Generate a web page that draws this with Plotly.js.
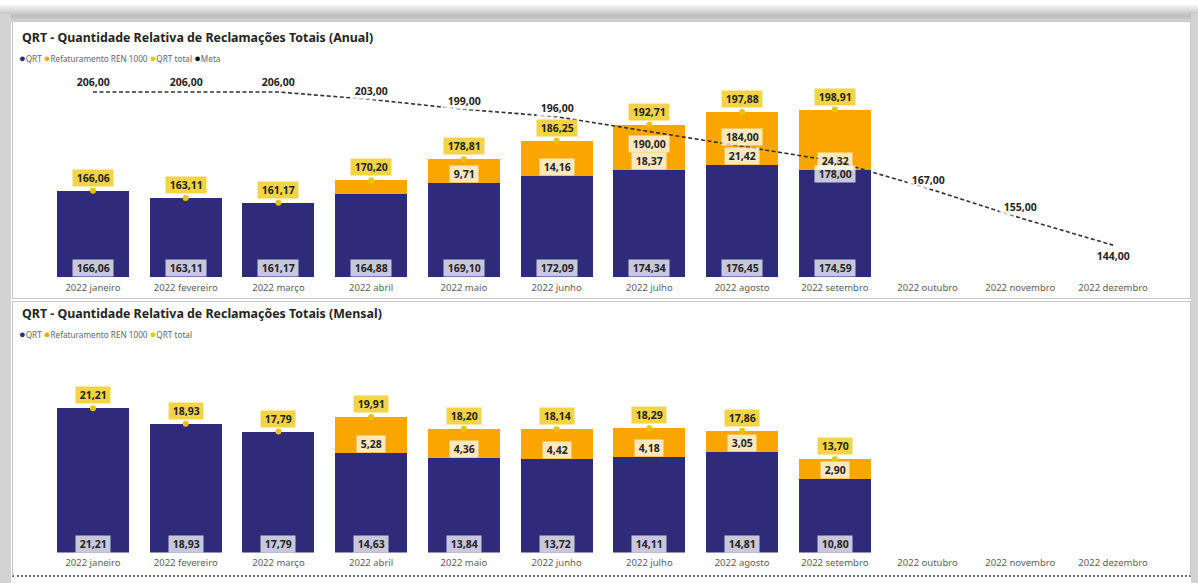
<!DOCTYPE html>
<html><head><meta charset="utf-8">
<script src="https://cdn.plot.ly/plotly-3.0.1.min.js"></script>
<style>
html,body{margin:0;padding:0;background:#fff;width:1198px;height:583px;overflow:hidden;position:relative}
#shadowTop{position:absolute;left:0;top:5px;width:1198px;height:17px;background:linear-gradient(#f6f6f6,#bdbdbd 65%,#d6d6d6)}
#leftS{position:absolute;left:0;top:14px;width:11px;height:569px;background:#d3d3d3}
#rightS{position:absolute;left:1191px;top:14px;width:7px;height:569px;background:#d3d3d3}
.panel{position:absolute;left:12px;width:1177px;background:#fff;border:1px solid #c8c8c8}
#p1{top:21px;height:276px}
#p2{top:301px;height:273px;border-bottom:2px dotted #6f6f6f}
#chart{position:absolute;left:0;top:0;width:1198px;height:583px}
</style></head>
<body>
<div id="shadowTop"></div><div id="leftS"></div><div id="rightS"></div>
<div class="panel" id="p1"></div><div class="panel" id="p2"></div>
<div id="chart"></div>
<script>
// ---- data ----
const months = ['2022 janeiro','2022 fevereiro','2022 março','2022 abril','2022 maio','2022 junho',
  '2022 julho','2022 agosto','2022 setembro','2022 outubro','2022 novembro','2022 dezembro'];
const qrtAnual = [166.06,163.11,161.17,164.88,169.10,172.09,174.34,176.45,174.59];
const refatAnual = [null,null,null,5.32,9.71,14.16,18.37,21.42,24.32];
const qrtTotalAnual = [166.06,163.11,161.17,170.20,178.81,186.25,192.71,197.88,198.91];
const metaAnual = [206,206,206,203,199,196,190,184,178,167,155,144];
const qrtMensal = [21.21,18.93,17.79,14.63,13.84,13.72,14.11,14.81,10.80];
const refatMensal = [null,null,null,5.28,4.36,4.42,4.18,3.05,2.90];
const qrtTotalMensal = [21.21,18.93,17.79,19.91,18.20,18.14,18.29,17.86,13.70];

// ---- styling / layout (not data) ----
const metaLabelShift = [10,10,10,8,8,9,-12,9,-13,8,11,-11];
const NAVY = '#2D2B7A', ORANGE = '#FBA500', YEL = '#F4D447', DOT = '#E8C300';
const WBG = 'rgba(255,255,255,0.74)';
const F = '"Noto Sans", "Open Sans", sans-serif';
const H = 583, W = 1198;
const py = px => 1 - px / H;
const yr1 = [131.1, 215], yd1 = [py(277), py(69.8)];
const yr2 = [0, 30.5], yd2 = [py(552.5), py(345.1)];
const ppu1 = (yd1[1]-yd1[0])*H/(yr1[1]-yr1[0]);
const ppu2 = (yd2[1]-yd2[0])*H/(yr2[1]-yr2[0]);
const fmt = v => '\u00a0' + v.toFixed(2).replace('.', ',') + '\u00a0';
const pad = a => months.map((m, i) => i < a.length ? a[i] : null);

function lab(xa, ya, x, y, v, bg, yshift) {
  return {xref: xa, yref: ya, x: x, y: y, text: '<b>' + fmt(v) + '</b>', showarrow: false,
    bgcolor: bg, borderpad: 1, yshift: yshift, xanchor: 'center', yanchor: 'middle',
    font: {family: F, size: 10.5, color: '#252423'}};
}

const traces = [];
const ann = [];
function chart(xa, ya, qrt, refat, tot, yr, ppu, showMeta) {
  traces.push({type: 'bar', x: months, y: pad(qrt), xaxis: xa, yaxis: ya, marker: {color: NAVY}, showlegend: false, hoverinfo: 'skip'});
  traces.push({type: 'bar', x: months, y: pad(refat), xaxis: xa, yaxis: ya, marker: {color: ORANGE}, showlegend: false, hoverinfo: 'skip'});
  if (showMeta) {
    traces.push({type: 'scatter', mode: 'lines', x: months, y: metaAnual, xaxis: xa, yaxis: ya,
      line: {color: '#333333', width: 1.6, dash: '4px,2.5px'}, showlegend: false, hoverinfo: 'skip', cliponaxis: false});
  }
  traces.push({type: 'scatter', mode: 'markers', x: months, y: pad(tot), xaxis: xa, yaxis: ya,
    marker: {color: DOT, size: 6}, showlegend: false, hoverinfo: 'skip', cliponaxis: false});
  qrt.forEach((v, i) => {
    const m = months[i];
    ann.push(lab(xa, ya, m, yr[0], v, WBG, 9));
    if (refat[i] != null && refat[i] * ppu >= 16) ann.push(lab(xa, ya, m, v, refat[i], WBG, 9));
    ann.push(lab(xa, ya, m, tot[i], tot[i], YEL, 13));
  });
  if (showMeta) {
    metaAnual.forEach((v, i) => ann.push(lab(xa, ya, months[i], v, v, WBG, metaLabelShift[i])));
  }
}
chart('x', 'y', qrtAnual, refatAnual, qrtTotalAnual, yr1, ppu1, true);
chart('x2', 'y2', qrtMensal, refatMensal, qrtTotalMensal, yr2, ppu2, false);

function title(txt, ypx) {
  return {xref: 'paper', yref: 'paper', x: 20/W, y: py(ypx), xanchor: 'left', yanchor: 'middle', showarrow: false,
    text: '<b>' + txt + '</b>', font: {family: F, size: 12.4, color: '#252423'}};
}
const dot = c => '<span style="color:' + c + ';font-size:11px">●</span>';
function legend(items, ypx) {
  return {xref: 'paper', yref: 'paper', x: 17/W, y: py(ypx), xanchor: 'left', yanchor: 'middle', showarrow: false,
    text: items.map(it => dot(it[1]) + it[0]).join(' '), font: {family: F, size: 8.2, color: '#666666'}};
}
ann.push(title('QRT - Quantidade Relativa de Reclamações Totais (Anual)', 37));
ann.push(legend([['QRT', NAVY], ['Refaturamento REN 1000', ORANGE], ['QRT total', '#F2C500'], ['Meta', '#111111']], 57));
ann.push(title('QRT - Quantidade Relativa de Reclamações Totais (Mensal)', 313));
ann.push(legend([['QRT', NAVY], ['Refaturamento REN 1000', ORANGE], ['QRT total', '#F2C500']], 333));

const xcommon = {type: 'category', categoryorder: 'array', categoryarray: months, range: [-0.5, 11.5],
  autorange: false, showgrid: false, zeroline: false, showline: false, ticks: '', ticklabelstandoff: 3,
  tickfont: {family: F, size: 9.5, color: '#605E5C'}, fixedrange: true,
  domain: [46.6/W, 1159.4/W]};
const layout = {
  width: W, height: H, margin: {l: 0, r: 0, t: 0, b: 0},
  paper_bgcolor: 'rgba(0,0,0,0)', plot_bgcolor: 'rgba(0,0,0,0)',
  barmode: 'stack', bargap: 0.224, hovermode: false, showlegend: false,
  xaxis: Object.assign({}, xcommon, {anchor: 'y'}),
  xaxis2: Object.assign({}, xcommon, {anchor: 'y2'}),
  yaxis: {domain: yd1, range: yr1, visible: false, fixedrange: true, anchor: 'x'},
  yaxis2: {domain: yd2, range: yr2, visible: false, fixedrange: true, anchor: 'x2'},
  annotations: ann
};
Plotly.newPlot('chart', traces, layout, {staticPlot: true, displayModeBar: false});
</script>
</body></html>
